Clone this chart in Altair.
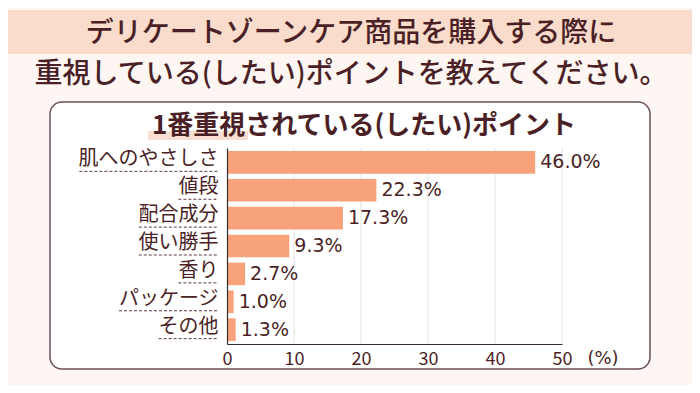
import altair as alt
import pandas as pd

categories = ["肌へのやさしさ", "値段", "配合成分", "使い勝手", "香り", "パッケージ", "その他"]
values = [46.0, 22.3, 17.3, 9.3, 2.7, 1.0, 1.3]
ticks = [0, 10, 20, 30, 40, 50]

title1 = "デリケートゾーンケア商品を購入する際に"
title2 = "重視している(したい)ポイントを教えてください。"
subtitle = "1番重視されている(したい)ポイント"
unit = "(%)"

JP = "Noto Sans CJK JP"
TXT = "#4a1f26"
BAR = "#f7a27b"
BG = "#fdf6f2"

W, H = 335, 196

df = pd.DataFrame({
    "category": categories,
    "value": values,
    "label": [f"{v:.1f}%" for v in values],
})
tick_df = pd.DataFrame({"t": ticks[1:]})
one = pd.DataFrame({"a": [0]})

x_scale = alt.Scale(domain=[0, 50], nice=False)
x_axis = alt.Axis(values=ticks, title=None, grid=False, ticks=False,
                  labelFont=JP, labelFontSize=18, labelColor=TXT,
                  labelPadding=6, labelAngle=0, domainColor="#3a2a2a",
                  domainWidth=1.2, zindex=1, labelFlush=False)
y_axis = alt.Axis(title=None, ticks=False, grid=False, labelFont=JP,
                  labelFontSize=20, labelColor=TXT, labelPadding=9,
                  labelOffset=-3, domainColor="#3a2a2a", domainWidth=1.2,
                  zindex=1, labelLimit=300)
y_scale = alt.Scale(paddingInner=0.19, paddingOuter=0.11)

band = alt.Chart(one).mark_rect(color="#f9dccb").encode(
    x=alt.value(-219), x2=alt.value(W + 130), y=alt.value(-138), y2=alt.value(-94))
t1 = alt.Chart(one).mark_text(font=JP, fontSize=28, fontWeight=500, color=TXT,
                              align="center", baseline="middle").encode(
    x=alt.value(124), y=alt.value(-114), text=alt.value(title1))
t2 = alt.Chart(one).mark_text(font=JP, fontSize=28, fontWeight=500, color=TXT,
                              align="center", baseline="middle").encode(
    x=alt.value(124), y=alt.value(-73), text=alt.value(title2))
box = alt.Chart(one).mark_rect(fill="white", stroke="#6e4f58", strokeWidth=1.5,
                               cornerRadius=12).encode(
    x=alt.value(-177), x2=alt.value(423), y=alt.value(-46), y2=alt.value(221))
hl = alt.Chart(one).mark_rect(color="#f9dfd2").encode(
    x=alt.value(-79), x2=alt.value(21), y=alt.value(-17), y2=alt.value(-8))
sub = alt.Chart(one).mark_text(font=JP, fontSize=26, fontWeight="bold", color=TXT,
                               align="center", baseline="middle").encode(
    x=alt.value(137), y=alt.value(-22), text=alt.value(subtitle))

grid = alt.Chart(tick_df).mark_rule(color="#e4e2e2", strokeWidth=1).encode(
    x=alt.X("t:Q", scale=x_scale, axis=x_axis),
    y=alt.value(0), y2=alt.value(H))

bars = alt.Chart(df).mark_bar(color=BAR).encode(
    x=alt.X("value:Q", scale=x_scale, axis=x_axis),
    y=alt.Y("category:N", sort=categories, scale=y_scale, axis=y_axis))

vals = alt.Chart(df).mark_text(font="DejaVu Sans", fontSize=19, color=TXT,
                               align="left", baseline="middle", dx=5).encode(
    x=alt.X("value:Q", scale=x_scale, axis=x_axis),
    y=alt.Y("category:N", sort=categories, scale=y_scale, axis=y_axis),
    text="label:N")

under = alt.Chart(df).transform_calculate(
    ux1=f"(-9 - length(datum.category) * 19.8) * 50 / {W}",
    ux2=f"-9 * 50 / {W}",
).mark_rule(color="#5a3a40", strokeWidth=1, strokeDash=[3, 2], yOffset=9).encode(
    x=alt.X("ux1:Q", scale=x_scale, axis=x_axis), x2="ux2:Q",
    y=alt.Y("category:N", sort=categories, scale=y_scale, axis=y_axis))

pct = alt.Chart(one).mark_text(font="DejaVu Sans", fontSize=18, color=TXT,
                               align="center", baseline="middle").encode(
    x=alt.value(376), y=alt.value(211), text=alt.value(unit))

chart = alt.layer(band, t1, t2, box, hl, sub, grid, bars, vals, under, pct).properties(
    width=W, height=H,
    padding={"left": 219, "top": 140, "right": 130, "bottom": 41},
    autosize=alt.AutoSizeParams(type="none"),
    background=BG,
).configure_view(stroke=None)

chart.save("out.html", embed_options={"renderer": "svg", "actions": False})
